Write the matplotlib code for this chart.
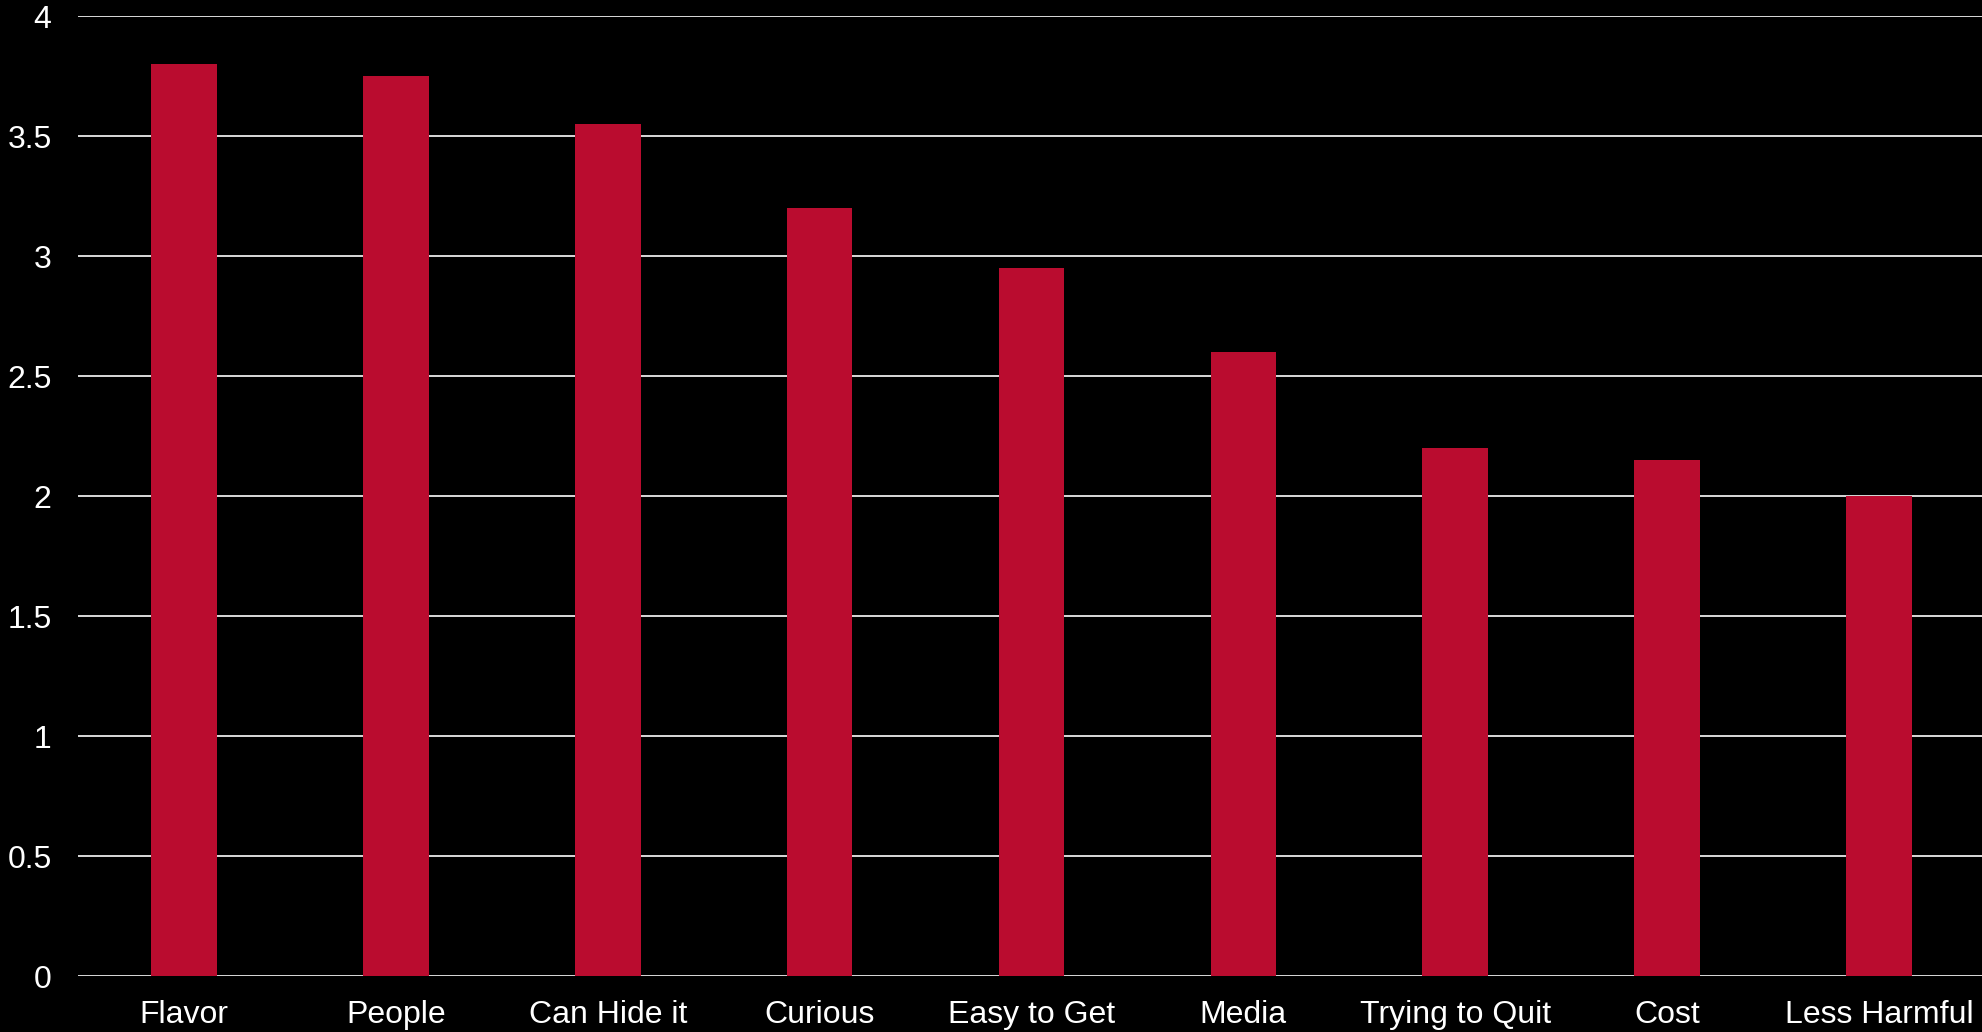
import matplotlib.pyplot as plt
import numpy as np

# values
categories = ["Flavor", "People", "Can Hide it", "Curious", "Easy to Get",
              "Media", "Trying to Quit", "Cost", "Less Harmful"]
scores = [3.8, 3.75, 3.55, 3.2, 2.95, 2.6, 2.2, 2.15, 2.0]
yticks = [0, 0.5, 1, 1.5, 2, 2.5, 3, 3.5, 4]

plt.rcParams['font.family'] = ['Liberation Sans', 'DejaVu Sans']

fig = plt.figure(figsize=(19.82, 10.32), dpi=100, facecolor="black")
ax = fig.add_axes([78 / 1982, 1 - 976 / 1032, 1907 / 1982, 960 / 1032])
ax.set_facecolor("black")

x = np.arange(len(categories))
ax.bar(x, scores, width=0.31, color="#BA0C2F", zorder=3)

ax.set_xlim(-0.5, len(categories) - 0.5)
ax.set_ylim(0, 4)
ax.set_yticks(yticks)
ax.set_yticklabels([f"{t:g}" for t in yticks])
ax.set_xticks(x)
ax.set_xticklabels(categories)

ax.grid(axis="y", color="#D9D9D9", linewidth=1.4, zorder=0)
ax.set_axisbelow(True)
for s in ax.spines.values():
    s.set_visible(False)

ax.tick_params(axis="both", length=0, colors="white", labelsize=23)
ax.tick_params(axis="x", pad=17)
ax.tick_params(axis="y", pad=19)

plt.savefig("out.png", facecolor="black")
plt.close()
